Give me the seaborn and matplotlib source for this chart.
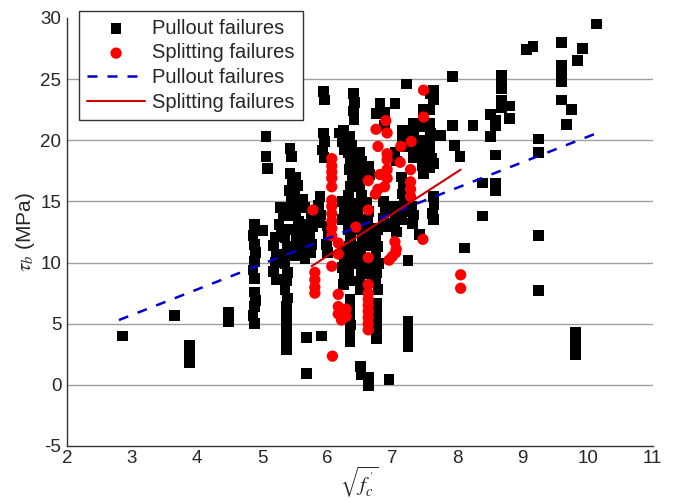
import numpy as np
import pandas as pd
import matplotlib
matplotlib.use("Agg")
import matplotlib.pyplot as plt
import seaborn as sns

# Bond strength vs square root of concrete strength, grouped by failure mode
pullout_x = [
    2.85, 3.65, 3.88, 3.88, 3.88, 4.48, 4.48,
    4.88, 4.86, 4.88, 4.90, 4.88, 4.86, 4.88, 4.88, 4.90, 4.88, 4.86, 4.88,
    5.06, 5.06, 5.08, 5.0,
    5.2, 5.18, 5.22, 5.2, 5.18, 5.22,
    5.28, 5.32, 5.26, 5.3,
    5.37, 5.35, 5.39, 5.37, 5.35, 5.39, 5.37, 5.35, 5.39, 5.37, 5.37, 5.37, 5.37, 5.37, 5.37,
    5.43, 5.45, 5.43, 5.46, 5.42, 5.45, 5.43, 5.46,
    5.52, 5.55, 5.50, 5.54, 5.52, 5.56, 5.50, 5.53, 5.55, 5.51,
    5.62, 5.65, 5.62, 5.60, 5.64, 5.62, 5.66,
    5.68, 5.68,
    5.75, 5.78, 5.73, 5.76, 5.74,
    5.91,
    5.89, 5.87, 5.90, 5.88,
    5.94, 5.96, 5.94, 5.96, 5.93, 5.95,
    6.0, 6.02, 5.99, 6.01,
    6.19,
    6.25, 6.23, 6.27, 6.24, 6.26, 6.23, 6.25, 6.27, 6.24, 6.26, 6.25,
    6.35, 6.38, 6.33, 6.36, 6.34, 6.38, 6.35, 6.33, 6.37, 6.35, 6.38, 6.33,
    6.36, 6.34, 6.38, 6.35, 6.33, 6.37, 6.35, 6.35, 6.35, 6.36, 6.35, 6.35,
    6.4, 6.42, 6.4, 6.41,
    6.5, 6.53, 6.48, 6.52, 6.49, 6.53, 6.50, 6.47, 6.52, 6.50, 6.54, 6.48, 6.51, 6.50,
    6.53, 6.49, 6.51, 6.51, 6.52,
    6.63, 6.65, 6.61, 6.64, 6.62, 6.66, 6.63, 6.61, 6.65, 6.63, 6.63, 6.63,
    6.76, 6.78, 6.74, 6.77, 6.75, 6.79, 6.76, 6.74, 6.78, 6.76, 6.76, 6.76, 6.76, 6.76,
    6.81,
    6.88, 6.88, 6.86, 6.90, 6.87, 6.89,
    6.95,
    7.04, 7.04, 7.06, 7.02, 7.05, 7.03, 7.06,
    7.16, 7.16, 7.18, 7.14, 7.17, 7.15, 7.18, 7.16, 7.14,
    7.22,
    7.24, 7.24, 7.24, 7.24, 7.24,
    7.32, 7.33, 7.31, 7.34, 7.32, 7.30, 7.33, 7.31,
    7.42,
    7.47, 7.47, 7.47, 7.46, 7.48, 7.47, 7.46, 7.48,
    7.58, 7.58, 7.58, 7.59, 7.57, 7.58, 7.60, 7.57,
    7.63, 7.63, 7.63, 7.63, 7.64, 7.62, 7.63,
    7.74, 7.92, 7.92, 7.95, 8.04, 8.11, 8.24, 8.39, 8.39,
    8.51, 8.51, 8.59, 8.59, 8.59, 8.59, 8.59,
    8.68, 8.68, 8.68, 8.68, 8.68, 8.8, 8.8,
    9.06, 9.16, 9.25, 9.25, 9.25, 9.25,
    9.6, 9.6, 9.6, 9.6, 9.6, 9.67, 9.75,
    9.81, 9.81, 9.81, 9.81, 9.84, 9.92, 10.14,
]
pullout_y = [
    4.0, 5.7, 3.2, 2.5, 1.8, 5.9, 5.2,
    13.1, 12.2, 11.5, 10.8, 10.1, 9.4, 8.7, 7.6, 6.9, 6.4, 5.7, 5.0,
    20.3, 18.7, 17.7, 12.6,
    12.1, 11.4, 10.7, 10.0, 9.3, 8.6,
    14.5, 13.8, 13.1, 12.4,
    12.7, 12.0, 11.3, 10.6, 9.9, 9.2, 8.5, 7.8, 7.1, 6.4, 5.7, 5.0, 4.3, 3.6, 2.9,
    19.3, 18.7, 17.3, 16.6, 15.9, 15.2, 14.5, 13.8,
    17.0, 16.3, 15.6, 14.8, 14.1, 13.4, 12.7, 12.0, 11.3, 10.6,
    15.2, 14.5, 13.1, 12.4, 11.7, 11.0, 10.3,
    3.9, 0.9,
    13.7, 12.9, 12.2, 11.5, 10.8,
    4.0,
    15.4, 14.7, 13.9, 13.3,
    24.0, 23.3, 20.6, 19.9, 19.2, 18.6,
    13.0, 12.2, 11.5, 10.8,
    20.6,
    20.8, 19.9, 19.2, 15.0, 14.2, 13.5, 11.0, 10.3, 9.6, 8.9, 8.2,
    20.3, 19.6, 19.0, 18.3, 17.6, 16.9, 16.2, 15.5, 14.8, 14.1, 13.4, 12.7,
    12.0, 11.3, 10.6, 9.9, 9.2, 8.5, 7.0, 6.3, 5.6, 4.9, 4.2, 3.5,
    23.8, 23.1, 22.4, 21.7,
    19.0, 18.3, 17.6, 16.9, 16.2, 15.5, 14.8, 14.1, 13.4, 12.7, 12.0, 11.3, 10.6, 9.9,
    9.2, 8.5, 7.8, 1.5, 0.8,
    17.9, 17.2, 14.9, 14.2, 13.5, 12.8, 12.1, 11.4, 9.8, 9.1, 0.6, -0.1,
    22.2, 12.7, 12.0, 11.3, 10.6, 9.9, 9.2, 8.5, 7.8, 6.7, 6.0, 5.3, 4.6, 3.8,
    23.0,
    22.3, 21.2, 15.0, 14.3, 13.6, 12.9,
    0.45,
    23.0, 19.0, 18.3, 14.6, 13.9, 13.2, 12.5,
    20.8, 20.1, 19.5, 17.0, 16.3, 15.6, 14.9, 14.2, 13.5,
    24.6,
    10.2, 5.2, 4.5, 3.8, 3.1,
    21.4, 20.7, 20.0, 19.3, 18.6, 14.6, 13.9, 13.2,
    12.3,
    22.5, 21.8, 21.1, 20.0, 19.3, 18.6, 17.9, 17.3,
    23.8, 22.5, 21.4, 20.6, 19.9, 19.2, 18.5, 17.8,
    24.1, 23.3, 18.1, 15.4, 14.7, 14.0, 13.5,
    20.4, 25.2, 21.2, 19.6, 18.7, 11.2, 21.2, 16.5, 13.8,
    22.1, 20.3, 21.6, 21.2, 18.8, 16.5, 15.9,
    25.3, 24.7, 24.2, 23.3, 22.7, 22.8, 21.8,
    27.4, 27.7, 20.1, 19.0, 12.2, 7.7,
    28.0, 26.1, 25.5, 24.8, 23.3, 21.3, 22.5,
    4.3, 3.6, 2.9, 2.5, 26.5, 27.5, 29.5,
]

splitting_x = [
    7.48, 7.48, 6.90, 6.75, 6.92, 7.29, 7.13, 6.78, 6.92, 6.92, 7.12, 7.28,
    6.92, 6.81, 6.92, 6.63, 6.78, 6.88, 6.74, 7.28, 7.28, 7.28,
    6.07, 6.07, 6.07, 6.07, 6.07, 6.07, 6.07, 6.07, 6.07, 6.07, 6.07,
    5.78, 6.63, 6.44, 6.17, 6.17, 7.47, 7.04, 7.06,
    7.0, 6.95, 7.05, 6.63, 6.07,
    5.81, 5.81, 5.81, 5.81, 6.63,
    6.63, 6.63, 6.63, 6.63, 6.63, 6.63, 6.63,
    6.17, 6.17, 6.17, 6.29, 6.29, 6.22,
    6.08, 8.05, 8.05,
]
splitting_y = [
    24.1, 21.9, 21.6, 20.9, 20.6, 19.9, 19.5, 19.5, 18.9, 18.4, 18.2, 17.6,
    17.6, 17.2, 16.9, 16.7, 16.0, 16.2, 15.6, 16.6, 16.0, 15.4,
    18.5, 17.9, 17.4, 16.9, 16.2, 15.1, 14.6, 14.0, 13.4, 12.8, 12.2,
    14.3, 14.3, 12.9, 11.6, 10.7, 11.9, 11.7, 11.1,
    10.5, 10.2, 10.8, 10.4, 9.7,
    9.2, 8.6, 8.0, 7.5, 8.2,
    7.5, 7.0, 6.5, 6.0, 5.5, 5.0, 4.5,
    7.4, 6.4, 5.8, 6.2, 5.6, 5.3,
    2.35, 9.0, 7.9,
]

# Least-squares trend lines (end points of each fitted segment)
pullout_fit_x = [2.80, 10.15]
pullout_fit_y = [5.30, 20.60]
splitting_fit_x = [5.76, 8.05]
splitting_fit_y = [9.70, 17.60]

x_ticks = [2, 3, 4, 5, 6, 7, 8, 9, 10, 11]
y_ticks = [-5, 0, 5, 10, 15, 20, 25, 30]

pullout = pd.DataFrame({"fc": pullout_x, "tau": pullout_y})
splitting = pd.DataFrame({"fc": splitting_x, "tau": splitting_y})
pullout_fit = pd.DataFrame({"fc": pullout_fit_x, "tau": pullout_fit_y})
splitting_fit = pd.DataFrame({"fc": splitting_fit_x, "tau": splitting_fit_y})

sns.set_theme(style="white")
plt.rcParams["font.family"] = ["Liberation Sans", "DejaVu Sans"]
plt.rcParams["mathtext.fontset"] = "stix"

fig = plt.figure(figsize=(6.75, 5.0), dpi=100)
ax = fig.add_axes([0.099, 0.108, 0.868, 0.856])

sns.scatterplot(data=pullout, x="fc", y="tau", marker="s", s=60, color="black",
                edgecolor="none", linewidth=0, label="Pullout failures", ax=ax, zorder=3)
sns.scatterplot(data=splitting, x="fc", y="tau", marker="o", s=66, color="#ff0000",
                edgecolor="none", linewidth=0, label="Splitting failures", ax=ax, zorder=4)
sns.lineplot(data=pullout_fit, x="fc", y="tau", color="#0000cc", linewidth=1.8,
             label="Pullout failures", ax=ax, zorder=5)
sns.lineplot(data=splitting_fit, x="fc", y="tau", color="#cc0000", linewidth=1.5,
             label="Splitting failures", ax=ax, zorder=5)
ax.lines[0].set_linestyle((0, (4, 4)))

ax.set_xlim(2, 11)
ax.set_ylim(-5, 30)
ax.set_xticks(x_ticks)
ax.set_yticks(y_ticks)
ax.set_xticklabels([str(v) for v in x_ticks], fontsize=13.5)
ax.set_yticklabels([str(v) for v in y_ticks], fontsize=13.5)

ax.grid(axis="y", color="#a0a0a0", linewidth=1.0)
ax.grid(axis="x", visible=False)
ax.set_axisbelow(True)
gl = ax.yaxis.get_gridlines()
gl[0].set_visible(False)
gl[-1].set_visible(False)

for side in ("top", "right"):
    ax.spines[side].set_visible(False)
ax.spines["left"].set_color("#333333")
ax.spines["bottom"].set_color("#333333")
ax.spines["left"].set_linewidth(1.0)
ax.spines["bottom"].set_linewidth(1.0)
ax.tick_params(axis="y", direction="out", length=3, width=0.8, color="#333333", pad=1)
ax.tick_params(axis="x", length=0, pad=3)

ax.set_xlabel(r"$\sqrt{f_c^{\,'}}$", fontsize=15, va="center")
ax.xaxis.set_label_coords(0.5, -0.083)
ax.set_ylabel(r"$\tau_b$ (MPa)", fontsize=15, labelpad=2)

leg = ax.legend(loc="upper left", bbox_to_anchor=(0.0205, 1.017), borderaxespad=0,
                fontsize=14.5, frameon=True, fancybox=False, edgecolor="#333333",
                framealpha=1, handlelength=2.9, handletextpad=0.35, borderpad=0.4,
                labelspacing=0.28)
leg.get_frame().set_linewidth(1.0)

fig.savefig("out.png", dpi=100)
